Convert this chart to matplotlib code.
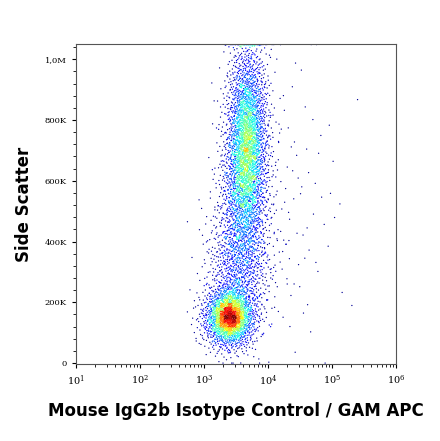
import numpy as np
import matplotlib.pyplot as plt
from statistics import NormalDist

# populations: centre log10(x), centre y, spread log10(x), spread y, count
pop_logx = [3.40, 3.68, 3.62, 3.55, 4.15]
pop_y = [150e3, 760e3, 560e3, 320e3, 520e3]
pop_sx = [0.20, 0.16, 0.19, 0.25, 0.50]
pop_sy = [50e3, 150e3, 130e3, 100e3, 270e3]
pop_n = [1700, 2100, 1100, 800, 140]

def halton(n, base):
    out = np.zeros(n)
    for i in range(n):
        f, r, k = 1.0, 0.0, i + 1
        while k > 0:
            f /= base
            r += f * (k % base)
            k //= base
        out[i] = r
    return out

nd = NormalDist()
xs, ys = [], []
start = 0
for lx, cy, sx, sy, n in zip(pop_logx, pop_y, pop_sx, pop_sy, pop_n):
    u = halton(start + n, 2)[start:]
    v = halton(start + n, 3)[start:]
    start += n
    zx = np.array([nd.inv_cdf(min(max(a, 1e-4), 1 - 1e-4)) for a in u])
    zy = np.array([nd.inv_cdf(min(max(a, 1e-4), 1 - 1e-4)) for a in v])
    xs.append(10 ** (lx + sx * zx))
    ys.append(cy + sy * zy)
x = np.concatenate(xs)
y = np.clip(np.concatenate(ys), 0, 1.048e6)

# density colouring
H, xe, ye = np.histogram2d(np.log10(x), y, bins=[80, 80], range=[[1, 6], [0, 1.05e6]])
ix = np.clip(np.digitize(np.log10(x), xe) - 1, 0, 79)
iy = np.clip(np.digitize(y, ye) - 1, 0, 79)
d = H[ix, iy]
order = np.argsort(d)

fig = plt.figure(figsize=(4.4, 4.41), dpi=100)
ax = fig.add_axes([76/440, 1 - 364/441, 320/440, 320/441])
ax.scatter(x[order], y[order], c=d[order] ** 1.2, cmap='jet', s=0.9, linewidths=0,
           vmin=0, vmax=d.max() ** 1.2)
ax.set_xscale('log')
ax.set_xlim(10, 1e6)
ax.set_ylim(-3e3, 1.05e6)
yt = [0, 200e3, 400e3, 600e3, 800e3, 1e6]
ax.set_yticks(yt)
ax.set_yticklabels(['0', '200K', '400K', '600K', '800K', '1,0M'], fontsize=6, family='DejaVu Serif')
ax.yaxis.set_minor_locator(plt.MultipleLocator(40e3))
ax.tick_params(axis='y', labelsize=6, length=3)
ax.tick_params(axis='x', labelsize=7, length=3)
for lab in ax.get_xticklabels():
    lab.set_family('DejaVu Serif')
for s in ax.spines.values():
    s.set_color('#555555')
ax.set_ylabel('Side Scatter', fontsize=12, fontweight='bold', labelpad=8)
ax.set_xlabel('Mouse IgG2b Isotype Control / GAM APC', fontsize=12, fontweight='bold', labelpad=10)
fig.savefig('out.png', dpi=100)
